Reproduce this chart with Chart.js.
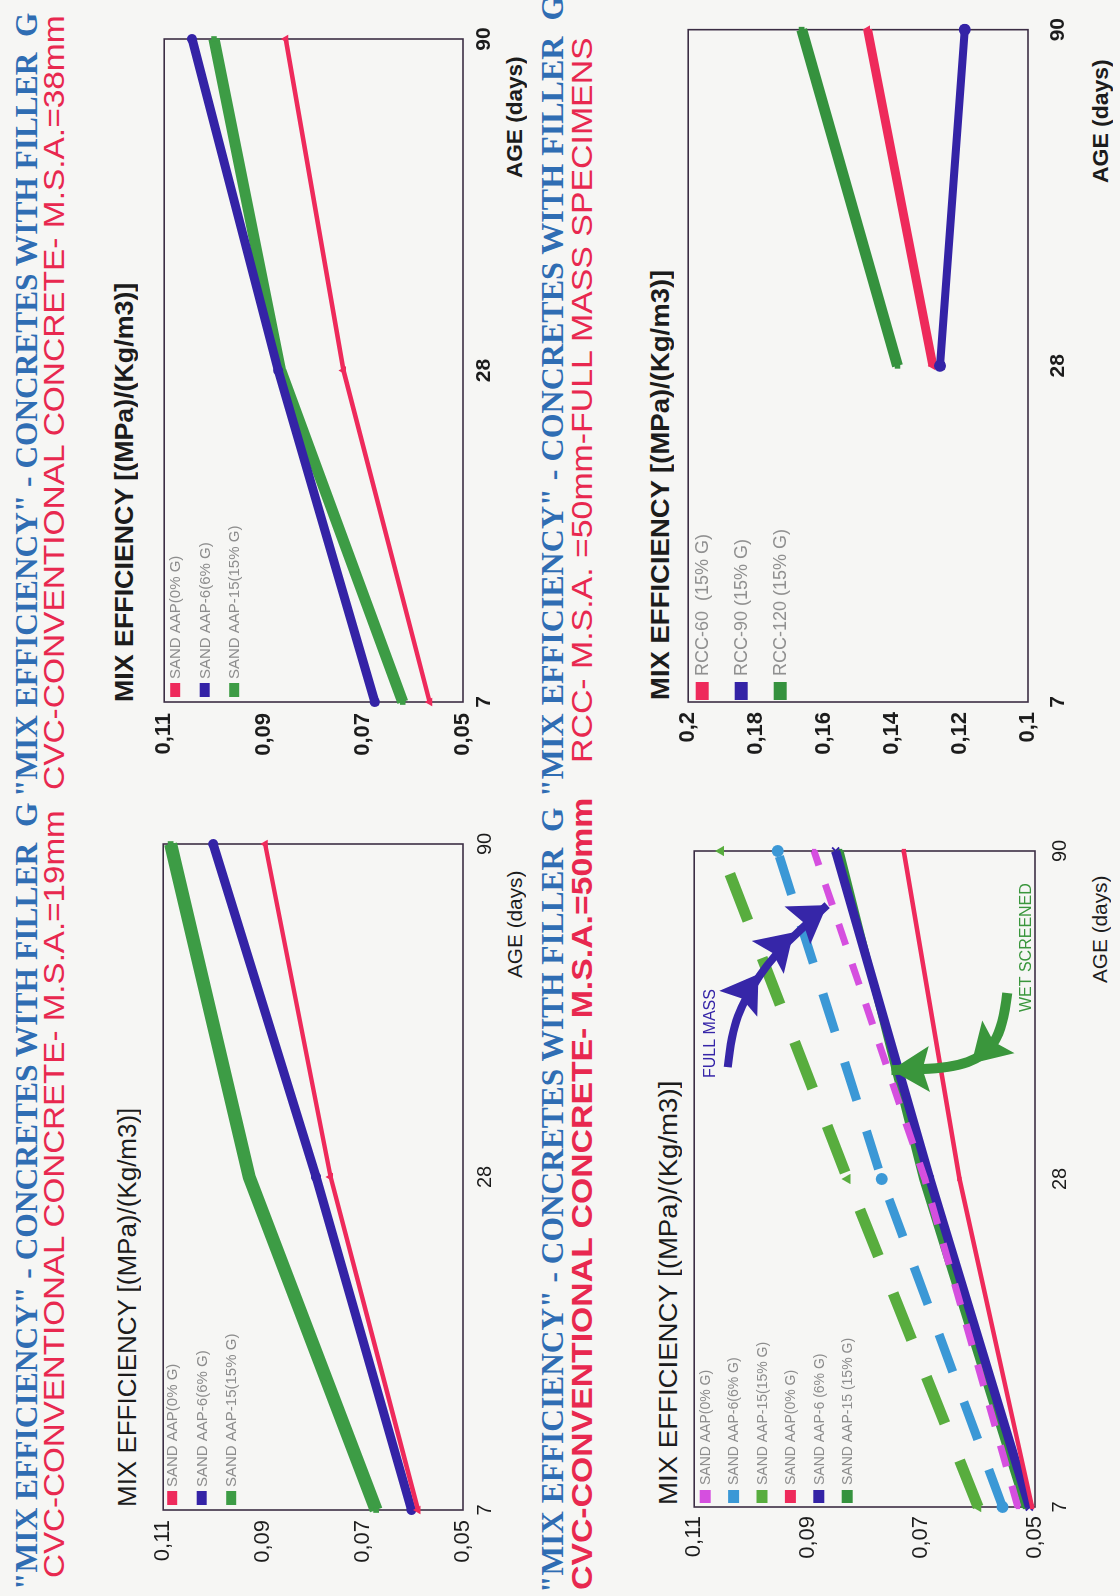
<!DOCTYPE html>
<html>
<head>
<meta charset="utf-8">
<script src="https://cdn.jsdelivr.net/npm/chart.js@4.4.1/dist/chart.umd.min.js"></script>
<style>
  html, body { margin: 0; padding: 0; background: #f6f6f4; }
  body { width: 1120px; height: 1596px; overflow: hidden; position: relative; }
  /* the sheet is laid out landscape and turned a quarter turn */
  #page {
    position: absolute; left: 0; top: 0; width: 1596px; height: 1120px;
    transform-origin: 0 0; transform: translate(0, 1596px) rotate(-90deg);
    background: #f6f6f4; overflow: hidden;
  }
  #page canvas { position: absolute; }
  .t { position: absolute; white-space: pre; line-height: 1; transform-origin: 0 50%; }
</style>
</head>
<body>
<div id="page"></div>
<script>
// ---------- data ----------
const ages = ['7', '28', '90'];
const cvcTicks = [0.05, 0.07, 0.09, 0.11];
const rccTicks = [0.1, 0.12, 0.14, 0.16, 0.18, 0.2];

const sandLabels = ['SAND AAP(0% G)', 'SAND AAP-6(6% G)', 'SAND AAP-15(15% G)'];
const sandLabels50 = ['SAND AAP(0% G)', 'SAND AAP-6(6% G)', 'SAND AAP-15(15% G)',
                      'SAND AAP(0% G)', 'SAND AAP-6 (6% G)', 'SAND AAP-15 (15% G)'];
const rccLabels = ['RCC-60  (15% G)', 'RCC-90 (15% G)', 'RCC-120 (15% G)'];

// CVC, M.S.A. = 19 mm
const msa19Aap0  = [0.0590, 0.0765, 0.0896];
const msa19Aap6  = [0.0603, 0.0794, 0.1000];
const msa19Aap15 = [0.0674, 0.0928, 0.1085];

// CVC, M.S.A. = 38 mm
const msa38Aap0  = [0.0567, 0.0740, 0.0856];
const msa38Aap6  = [0.0677, 0.0871, 0.1044];
const msa38Aap15 = [0.0621, 0.0866, 0.1000];

// CVC, M.S.A. = 50 mm : full-mass specimens (dashed) and wet-screened (solid)
const msa50FullAap0  = [0.0530, 0.0694, 0.0889];
const msa50FullAap6  = [0.0557, 0.0770, 0.0953];
const msa50FullAap15 = [0.0600, 0.0830, 0.1053];
const msa50WetAap0   = [0.0505, 0.0633, 0.0731];
const msa50WetAap6   = [0.0510, 0.0685, 0.0851];
const msa50WetAap15  = [0.0518, 0.0698, 0.0843];

// RCC, M.S.A. = 50 mm, full-mass specimens (no 7-day result)
const rcc60  = [null, 0.1280, 0.1472];
const rcc90  = [null, 0.1259, 0.1186];
const rcc120 = [null, 0.1384, 0.1666];

// ---------- styles ----------
const SANS = '"Liberation Sans", Arial, sans-serif';
const SERIF = '"Liberation Serif", "Times New Roman", serif';
const RED = '#ee2a5b', BLUE = '#3423a6', GREEN = '#35923e', GREEN2 = '#3d9c45';
const LGREEN = '#58ad3e', LBLUE = '#3b98d6', MAGENTA = '#d54fdf';
const TITLE_BLUE = '#2f6db3', TITLE_RED = '#e8284f', INK = '#1c1c1c';

const page = document.getElementById('page');

// text stretched to span [u0, u1] with its middle at height v
function fitText(txt, u0, u1, v, font, color) {
  const el = document.createElement('div');
  el.className = 't';
  el.textContent = txt;
  el.style.font = font;
  el.style.color = color;
  page.appendChild(el);
  const w = el.offsetWidth, h = el.offsetHeight;
  el.style.left = u0 + 'px';
  el.style.top = (v - h / 2) + 'px';
  el.style.transform = 'scaleX(' + ((u1 - u0) / w) + ')';
}

const fmtTick = v => String(+Number(v).toFixed(2)).replace('.', ',');

// ---------- plugins ----------
const framePlugin = {
  id: 'frame',
  beforeDatasetsDraw(chart) {
    const { ctx, chartArea: a } = chart;
    ctx.save();
    ctx.strokeStyle = '#3b2d44';
    ctx.lineWidth = 1.6;
    ctx.strokeRect(a.left, a.top, a.right - a.left, a.bottom - a.top);
    ctx.restore();
  }
};

const insideLegend = {
  id: 'insideLegend',
  afterDraw(chart, args, o) {
    const { ctx, chartArea: a } = chart;
    ctx.save();
    ctx.font = o.font;
    ctx.textBaseline = 'middle';
    chart.data.datasets.forEach((ds, i) => {
      const y = a.top + o.top + i * o.gap;
      ctx.fillStyle = ds.borderColor;
      ctx.fillRect(a.left + o.markX, y - o.markH / 2, o.markW, o.markH);
      ctx.fillStyle = o.color;
      ctx.fillText(ds.label, a.left + o.textX, y + 1);
    });
    ctx.restore();
  }
};

// curved call-out arrows and their captions, placed in data space
const callouts = {
  id: 'callouts',
  afterDatasetsDraw(chart, args, o) {
    if (!o || !o.items) return;
    const { ctx } = chart;
    const xs = chart.scales.x, ys = chart.scales.y;
    const P = p => [xs.getPixelForValue(p[0]), ys.getPixelForValue(p[1])];
    ctx.save();
    o.items.forEach(it => {
      const pts = it.path.map(P);
      ctx.strokeStyle = it.color;
      ctx.fillStyle = it.color;
      ctx.lineWidth = it.width;
      ctx.lineCap = 'butt';
      ctx.lineJoin = 'round';
      ctx.beginPath();
      ctx.moveTo(pts[0][0], pts[0][1]);
      for (let i = 1; i < pts.length - 1; i++) {
        const mx = (pts[i][0] + pts[i + 1][0]) / 2, my = (pts[i][1] + pts[i + 1][1]) / 2;
        ctx.quadraticCurveTo(pts[i][0], pts[i][1], mx, my);
      }
      const last = pts[pts.length - 1];
      ctx.lineTo(last[0], last[1]);
      ctx.stroke();
      it.heads.forEach(h => {
        const f = P(h[0]), t = P(h[1]);
        let dx = t[0] - f[0], dy = t[1] - f[1];
        const d = Math.hypot(dx, dy) || 1;
        dx /= d; dy /= d;
        const bx = t[0] - dx * it.headLen, by = t[1] - dy * it.headLen;
        const nx = -dy * it.headW / 2, ny = dx * it.headW / 2;
        ctx.beginPath();
        ctx.moveTo(t[0], t[1]);
        ctx.lineTo(bx + nx, by + ny);
        ctx.lineTo(bx + dx * it.headLen * 0.18, by + dy * it.headLen * 0.18);
        ctx.lineTo(bx - nx, by - ny);
        ctx.closePath();
        ctx.fill();
      });
      if (it.caption) {
        const c = P(it.caption.at);
        ctx.font = it.caption.font;
        ctx.textBaseline = 'middle';
        ctx.textAlign = 'left';
        ctx.fillText(it.caption.text, c[0], c[1]);
      }
    });
    ctx.restore();
  }
};

// ---------- chart builder ----------
function line(label, data, color, width, extra) {
  return Object.assign({
    label, data, borderColor: color, backgroundColor: color,
    borderWidth: width, pointRadius: 4, pointBackgroundColor: color,
    pointBorderColor: color, pointBorderWidth: 0, tension: 0, fill: false,
    borderCapStyle: 'butt'
  }, extra || {});
}

function buildChart(box, area, yTicks, datasets, s) {
  const cv = document.createElement('canvas');
  cv.width = box.w; cv.height = box.h;
  cv.style.left = box.u + 'px';
  cv.style.top = box.v + 'px';
  page.appendChild(cv);
  const weight = s.bold ? 'bold' : 'normal';
  return new Chart(cv, {
    type: 'line',
    data: { labels: ages, datasets },
    options: {
      responsive: false, animation: false, devicePixelRatio: 1,
      layout: { padding: { left: 0, top: area.v0 - box.v, right: box.u + box.w - area.u1, bottom: 0 } },
      plugins: {
        legend: { display: false }, tooltip: { enabled: false },
        insideLegend: s.legend,
        callouts: s.callouts || {}
      },
      scales: {
        x: {
          type: 'category', offset: false,
          grid: { display: false, drawTicks: false }, border: { display: false },
          ticks: { font: { family: SANS, size: s.xSize, weight }, color: INK, padding: s.xPad,
                   maxRotation: 0, autoSkip: false },
          afterFit(sc) { sc.height = box.v + box.h - area.v1; }
        },
        y: {
          min: yTicks[0], max: yTicks[yTicks.length - 1],
          grid: { display: false, drawTicks: false }, border: { display: false },
          afterBuildTicks(sc) { sc.ticks = yTicks.map(v => ({ value: v })); },
          ticks: { callback: v => fmtTick(v), font: { family: SANS, size: 22, weight },
                   color: INK, padding: s.yPad },
          afterFit(sc) { sc.width = area.u0 - box.u; }
        }
      }
    },
    plugins: [framePlugin, insideLegend, callouts]
  });
}

// ---------- page text ----------
const head1 = '"MIX EFFICIENCY" - CONCRETES WITH FILLER  G';
const yName = 'MIX EFFICIENCY [(MPa)/(Kg/m3)]';
const headFont = 'bold 31px ' + SERIF;

fitText(head1, 6, 793, 27, headFont, TITLE_BLUE);
fitText('CVC-CONVENTIONAL CONCRETE- M.S.A.=19mm', 18, 786, 54, '29px ' + SANS, TITLE_RED);
fitText(head1, 799, 1583, 27, headFont, TITLE_BLUE);
fitText('CVC-CONVENTIONAL CONCRETE- M.S.A.=38mm', 806, 1581, 54, '29px ' + SANS, TITLE_RED);
fitText(head1, 3, 788, 553, headFont, TITLE_BLUE);
fitText('CVC-CONVENTIONAL CONCRETE- M.S.A.=50mm', 6, 798, 582, 'bold 29px ' + SANS, TITLE_RED);
fitText(head1, 799, 1600, 553, headFont, TITLE_BLUE);
fitText('RCC- M.S.A. =50mm-FULL MASS SPECIMENS', 833, 1559, 582, '29px ' + SANS, TITLE_RED);

fitText(yName, 89, 488, 127, '25px ' + SANS, INK);
fitText(yName, 894, 1313, 124, 'bold 25px ' + SANS, INK);
fitText(yName, 91, 515, 668, '25px ' + SANS, INK);
fitText(yName, 896, 1326, 660, 'bold 25px ' + SANS, INK);

fitText('AGE (days)', 618, 725, 515, '20px ' + SANS, INK);
fitText('AGE (days)', 1418, 1540, 515, 'bold 22px ' + SANS, INK);
fitText('AGE (days)', 613, 720, 1100, '20px ' + SANS, INK);
fitText('AGE (days)', 1413, 1537, 1101, 'bold 22px ' + SANS, INK);

// ---------- charts ----------
const legendSmall = { font: '15px ' + SANS, color: '#8d8d8d', top: 9, gap: 29.5, markX: 5, markW: 14, markH: 10, textX: 23 };

buildChart(
  { u: 0, v: 140, w: 795, h: 400 },
  { u0: 86, u1: 752, v0: 152, v1: 463 },
  cvcTicks,
  [
    line(sandLabels[0], msa19Aap0, RED, 4.5, { pointStyle: 'triangle', pointRadius: 5, order: 0 }),
    line(sandLabels[1], msa19Aap6, BLUE, 9, { pointStyle: 'circle', pointRadius: 5, order: 1 }),
    line(sandLabels[2], msa19Aap15, GREEN2, 13, { pointStyle: 'rect', pointRadius: 4, order: 2 })
  ],
  { bold: false, xSize: 20, xPad: 10, yPad: 10, legend: legendSmall }
);

buildChart(
  { u: 800, v: 140, w: 796, h: 400 },
  { u0: 894, u1: 1557, v0: 146, v1: 463 },
  cvcTicks,
  [
    line(sandLabels[0], msa38Aap0, RED, 4.5, { pointStyle: 'triangle', pointRadius: 5, order: 0 }),
    line(sandLabels[1], msa38Aap6, BLUE, 9, { pointStyle: 'circle', pointRadius: 5, order: 1 }),
    line(sandLabels[2], msa38Aap15, GREEN2, 11, { pointStyle: 'rect', pointRadius: 4, order: 2 })
  ],
  { bold: true, xSize: 21, xPad: 9, yPad: 11, legend: Object.assign({}, legendSmall, { top: 11 }) }
);

// the 50 mm chart carries call-outs for the full-mass (dashed) and wet-screened (solid) groups
buildChart(
  { u: 0, v: 672, w: 795, h: 410 },
  { u0: 89, u1: 745, v0: 691, v1: 1035 },
  cvcTicks,
  [
    line(sandLabels50[0], msa50FullAap0, MAGENTA, 7, { borderDash: [22, 20], pointStyle: 'rect', pointRadius: 3, order: 0 }),
    line(sandLabels50[1], msa50FullAap6, LBLUE, 9, { borderDash: [40, 32], pointStyle: 'circle', pointRadius: 6, order: 4 }),
    line(sandLabels50[2], msa50FullAap15, LGREEN, 11, { borderDash: [50, 40], pointStyle: 'triangle', pointRadius: 6, order: 5 }),
    line(sandLabels50[3], msa50WetAap0, RED, 4.5, { pointStyle: 'rect', pointRadius: 3, order: 1 }),
    line(sandLabels50[4], msa50WetAap6, BLUE, 9, { pointStyle: 'crossRot', pointRadius: 5, pointBorderWidth: 2, order: 2 }),
    line(sandLabels50[5], msa50WetAap15, GREEN, 7, { pointStyle: 'rect', pointRadius: 3, order: 3 })
  ],
  {
    bold: false, xSize: 20, xPad: 13, yPad: 9,
    legend: { font: '14px ' + SANS, color: '#8d8d8d', top: 11, gap: 28.4, markX: 4, markW: 13, markH: 11, textX: 22 },
    callouts: {
      items: [
        {
          color: '#3626a8', width: 8, headLen: 36, headW: 46,
          path: [[1.341, 0.1041], [1.442, 0.1035], [1.552, 0.1011], [1.686, 0.0959], [1.835, 0.0866]],
          heads: [
            [[1.546, 0.1018], [1.625, 0.0987]],
            [[1.683, 0.0966], [1.752, 0.0925]],
            [[1.777, 0.0915], [1.835, 0.0866]]
          ],
          caption: { text: 'FULL MASS', at: [1.308, 0.1072], font: '16px ' + SANS }
        },
        {
          color: '#3a963c', width: 10, headLen: 38, headW: 46,
          path: [[1.567, 0.0549], [1.460, 0.0556], [1.375, 0.0589], [1.338, 0.0648], [1.332, 0.0753]],
          heads: [
            [[1.424, 0.0570], [1.352, 0.0612]],
            [[1.335, 0.0692], [1.332, 0.0753]]
          ],
          caption: { text: 'WET SCREENED', at: [1.509, 0.0514], font: '16px ' + SANS }
        }
      ]
    }
  }
);

buildChart(
  { u: 800, v: 665, w: 796, h: 420 },
  { u0: 894, u1: 1571, v0: 684, v1: 1028 },
  rccTicks,
  [
    line(rccLabels[0], rcc60, RED, 9, { pointStyle: 'triangle', pointRadius: 5, order: 1 }),
    line(rccLabels[1], rcc90, BLUE, 8, { pointStyle: 'circle', pointRadius: 6, order: 0 }),
    line(rccLabels[2], rcc120, GREEN, 11, { pointStyle: 'rect', pointRadius: 4, order: 2 })
  ],
  { bold: true, xSize: 21, xPad: 18, yPad: 10,
    legend: { font: '18px ' + SANS, color: '#909090', top: 14, gap: 39, markX: 2, markW: 18, markH: 13, textX: 26 } }
);
</script>
</body>
</html>
